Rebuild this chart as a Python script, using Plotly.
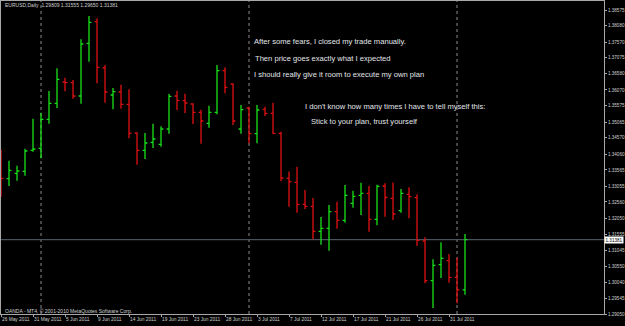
import plotly.graph_objects as go

# ---------------- data ----------------
symbol_title = "EURUSD,Daily  1.29809 1.31555 1.29650 1.31381"
copyright_text = "OANDA - MT4, © 2001-2010 MetaQuotes Software Corp."

bar_index = list(range(59))

opens = [1.33720, 1.33289, 1.33458, 1.33521, 1.34179, 1.34242, 1.35150, 1.35652, 1.36319, 1.36297,
         1.35880, 1.37532, 1.38208, 1.36758, 1.35912, 1.36006, 1.35620, 1.34721, 1.34179, 1.34430,
         1.34367, 1.34846, 1.35880, 1.35733, 1.35630, 1.35370, 1.35025, 1.35370, 1.36673, 1.36256,
         1.34846, 1.35504, 1.34699, 1.35464, 1.35338, 1.34712, 1.33302, 1.33176, 1.32487, 1.32424,
         1.31641, 1.31735, 1.32255, 1.31986, 1.32519, 1.32769, 1.32832, 1.32017, 1.33060, 1.32675,
         1.32287, 1.32800, 1.32694, 1.31337, 1.30093, 1.30595, 1.30720, 1.30200, 1.29809]
highs = [1.34188, 1.33853, 1.33697, 1.34229, 1.35169, 1.35357, 1.36037, 1.36748, 1.36454, 1.36382,
         1.37657, 1.38387, 1.38315, 1.36852, 1.36131, 1.36234, 1.36090, 1.34743, 1.34721, 1.35012,
         1.34931, 1.35943, 1.36046, 1.35952, 1.35652, 1.35451, 1.35577, 1.36852, 1.36780, 1.36278,
         1.35598, 1.35545, 1.35598, 1.35545, 1.35671, 1.34762, 1.33515, 1.33665, 1.32935, 1.32684,
         1.32089, 1.32465, 1.32569, 1.33092, 1.32913, 1.33164, 1.33060, 1.33101, 1.33145, 1.33170,
         1.32967, 1.33020, 1.32800, 1.31453, 1.30764, 1.31297, 1.30930, 1.30814, 1.31555]
lows = [1.32725, 1.33060, 1.33227, 1.33383, 1.34135, 1.33928, 1.35012, 1.35504, 1.36028, 1.35796,
        1.35639, 1.36955, 1.36278, 1.35671, 1.35464, 1.35483, 1.34555, 1.33728, 1.33906, 1.34251,
        1.34292, 1.34699, 1.35442, 1.35348, 1.35003, 1.34386, 1.34887, 1.35307, 1.35965, 1.34972,
        1.34699, 1.34398, 1.34398, 1.35254, 1.34690, 1.33208, 1.32412, 1.32224, 1.32340, 1.31390,
        1.31221, 1.31033, 1.31723, 1.31911, 1.32381, 1.32152, 1.31629, 1.31829, 1.32099, 1.31995,
        1.32224, 1.32049, 1.31190, 1.30012, 1.29238, 1.30178, 1.30031, 1.29385, 1.29650]
closes = [1.33302, 1.33552, 1.33530, 1.34157, 1.34220, 1.35150, 1.35652, 1.36404, 1.36297, 1.35880,
          1.37510, 1.38190, 1.36780, 1.36006, 1.36015, 1.35620, 1.34712, 1.34179, 1.34408, 1.34533,
          1.34846, 1.35871, 1.35746, 1.35661, 1.35370, 1.35097, 1.35370, 1.36673, 1.36153, 1.35097,
          1.35451, 1.34699, 1.35442, 1.35338, 1.34712, 1.33311, 1.33195, 1.32487, 1.32424, 1.31641,
          1.31735, 1.32255, 1.31986, 1.32769, 1.32738, 1.32832, 1.32017, 1.33051, 1.32700, 1.32183,
          1.32832, 1.32725, 1.31359, 1.30093, 1.30576, 1.30795, 1.30200, 1.29809, 1.31381]

x_tick_index = [0, 4, 8, 12, 16, 20, 24, 28, 32, 36, 40, 44, 48, 52, 56]
x_tick_labels = ["26 May 2011", "31 May 2011", "5 Jun 2011", "9 Jun 2011", "14 Jun 2011",
                 "19 Jun 2011", "23 Jun 2011", "28 Jun 2011", "3 Jul 2011", "7 Jul 2011",
                 "12 Jul 2011", "17 Jul 2011", "21 Jul 2011", "26 Jul 2011", "31 Jul 2011"]

y_tick_labels = ["1.38575", "1.38080", "1.37570", "1.37075", "1.36580", "1.36070", "1.35575",
                 "1.35065", "1.34570", "1.34060", "1.33565", "1.33055", "1.32560", "1.32050",
                 "1.31555", "1.31045", "1.30550", "1.30040", "1.29545", "1.29050"]

month_start_index = [5, 31, 57]
current_price = 1.31381

notes = ["After some fears, I closed my trade manually.",
         "Then price goes exactly what I expected",
         "I should really give it room to execute my own plan",
         "I don't know how many times I have to tell myself this:",
         "Stick to your plan, trust yourself"]

# ---------------- styling / layout ----------------
W, H = 625, 326
ML, MR, MT, MB = 1, 21, 1, 12
PW, PH = W - ML - MR, H - MT - MB
BULL = "#19e019"
BEAR = "#e01010"
FRAME = "#a8a8a8"
LABEL = "#d0d0d0"
FONT = "Liberation Sans, Arial, sans-serif"


def px_x(px):
    return (px - ML) / PW


def px_y(py):
    return (MT + PH - py) / PH


fig = go.Figure()
fig.add_trace(go.Ohlc(
    x=bar_index, open=opens, high=highs, low=lows, close=closes,
    increasing=dict(line=dict(color=BULL, width=1.3)),
    decreasing=dict(line=dict(color=BEAR, width=1.3)),
    tickwidth=0.3, showlegend=False, hoverinfo="skip",
))

shapes = []
for m in month_start_index:
    shapes.append(dict(type="line", xref="x", yref="paper", x0=m, x1=m, y0=0, y1=1,
                       line=dict(color="#8c8c8c", width=1, dash="dot"), layer="below"))
shapes.append(dict(type="line", xref="paper", yref="y", x0=0, x1=1,
                   y0=current_price, y1=current_price,
                   line=dict(color="#46525e", width=1.2), layer="below"))

annotations = []
annotations.append(dict(text=symbol_title, xref="paper", yref="paper", x=px_x(3), y=px_y(5),
                        xanchor="left", yanchor="middle", showarrow=False,
                        font=dict(family=FONT, size=5.0, color=LABEL)))
annotations.append(dict(text=copyright_text, xref="paper", yref="paper", x=px_x(3), y=px_y(310.5),
                        xanchor="left", yanchor="middle", showarrow=False,
                        font=dict(family=FONT, size=5.0, color=LABEL)))
note_pos = [(252, 41.5), (253, 58.3), (252, 75), (303, 106), (309, 121.5)]
for t, (nx, ny) in zip(notes, note_pos):
    annotations.append(dict(text=t, xref="paper", yref="paper", x=px_x(nx), y=px_y(ny),
                            xanchor="left", yanchor="middle", showarrow=False,
                            font=dict(family=FONT, size=7.6, color="#e2e6ea")))
annotations.append(dict(text=f"{current_price:.5f}", xref="paper", yref="y", x=1, y=current_price,
                        xanchor="left", yanchor="middle", xshift=0, showarrow=False,
                        bgcolor="#ffffff", borderpad=0.5,
                        font=dict(family=FONT, size=4.6, color="#000000")))

y_bottom = float(y_tick_labels[-1])
y_step = (float(y_tick_labels[0]) - y_bottom) / (len(y_tick_labels) - 1) / 16.0  # per pixel
y_top = y_bottom + PH * y_step

fig.update_layout(
    width=W, height=H,
    margin=dict(l=ML, r=MR, t=MT, b=MB, autoexpand=False),
    paper_bgcolor="#000000", plot_bgcolor="#000000",
    shapes=shapes, annotations=annotations,
    showlegend=False,
    xaxis=dict(range=[0, PW / 8.0], rangeslider=dict(visible=False),
               tickmode="array", tickvals=x_tick_index, ticktext=x_tick_labels,
               ticklabelposition="outside right", tickangle=0, automargin=False,
               ticks="outside", ticklen=2, tickcolor=FRAME, tickwidth=1,
               tickfont=dict(family=FONT, size=4.8, color=LABEL),
               showgrid=False, zeroline=False,
               showline=True, linecolor=FRAME, linewidth=1, mirror=True),
    yaxis=dict(range=[y_bottom, y_top], side="right", automargin=False,
               tickmode="array", tickvals=[float(v) for v in y_tick_labels], ticktext=y_tick_labels,
               ticks="outside", ticklen=2, tickcolor=FRAME, tickwidth=1,
               ticklabelstandoff=0,
               tickfont=dict(family=FONT, size=4.6, color=LABEL),
               showgrid=False, zeroline=False,
               showline=True, linecolor=FRAME, linewidth=1, mirror=True),
)

fig.write_html("out.html")
